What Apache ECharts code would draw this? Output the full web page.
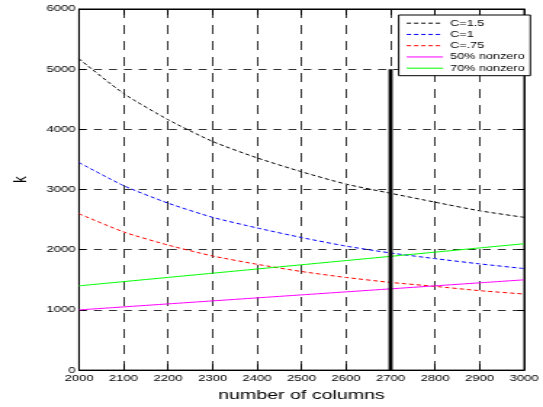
<!DOCTYPE html>
<html>
<head>
<meta charset="utf-8">
<script src="https://cdn.jsdelivr.net/npm/echarts@6/dist/echarts.min.js"></script>
<style>
html,body{margin:0;padding:0;background:#fff;overflow:hidden;width:543px;height:407px;}
#c{width:374px;height:407px;transform:scaleX(1.4519);transform-origin:0 0;}
</style>
</head>
<body>
<div id="c"></div>
<script>
// ---- data ----
const columns = [2000, 2100, 2200, 2300, 2400, 2500, 2600, 2700, 2800, 2900, 3000];
const c15 = [5172, 4596, 4161, 3799, 3526, 3295, 3090, 2938, 2790, 2647, 2538];
const c1 = [3449, 3065, 2774, 2538, 2362, 2202, 2060, 1946, 1852, 1765, 1687];
const c075 = [2598, 2296, 2077, 1896, 1758, 1638, 1539, 1457, 1391, 1320, 1264];
const nz50 = [1000, 1050, 1100, 1150, 1200, 1250, 1300, 1350, 1400, 1450, 1500];
const nz70 = [1400, 1470, 1540, 1610, 1680, 1750, 1820, 1890, 1960, 2030, 2100];
const markerX = 2700;
const markerBottom = 0;
const markerTop = 5000;
const seriesNames = ['C=1.5', 'C=1', 'C=.75', '50% nonzero', '70% nonzero'];
const xTitle = 'number of columns';
const yTitle = 'k';

const pair = (ys) => columns.map((x, i) => [x, ys[i]]);
const FONT = '"Liberation Sans", Arial, Helvetica, sans-serif';
const plain = (v) => String(v);

const chart = echarts.init(document.getElementById('c'), null, {renderer: 'canvas'});

function lineSeries(name, ys, color, dashed) {
  return {
    name: name, type: 'line', data: pair(ys), symbol: 'none', showSymbol: false,
    smooth: 0.2, animation: false, z: 3,
    lineStyle: {color: color, width: 1, type: dashed ? [3, 2] : 'solid'},
    itemStyle: {color: color}
  };
}

const option = {
  backgroundColor: '#fff',
  animation: false,
  grid: {left: 48.2, right: 9, top: 9, bottom: 33.5, show: true, borderColor: '#000', borderWidth: 1, backgroundColor: 'transparent'},
  legend: {
    show: true, orient: 'vertical', left: 274.6, top: 15,
    data: seriesNames,
    itemWidth: 25, itemHeight: 10, itemGap: 2.25,
    padding: [3.7, 4, 3, 5],
    borderColor: '#000', borderWidth: 1, backgroundColor: '#fff',
    itemStyle: {opacity: 0},
    lineStyle: {width: 1},
    textStyle: {fontFamily: FONT, fontSize: 8.7, color: '#000'},
    selectedMode: false
  },
  xAxis: [{
    type: 'value', min: 2000, max: 3000, interval: 100,
    name: xTitle, nameLocation: 'middle', nameGap: 12,
    nameTextStyle: {fontFamily: FONT, fontSize: 13.5, color: '#000'},
    axisLine: {show: true, onZero: false, lineStyle: {color: '#000', width: 1}},
    axisTick: {show: true, inside: true, length: 6, lineStyle: {color: '#000'}},
    axisLabel: {show: true, margin: 4, fontFamily: FONT, fontSize: 9, color: '#000', formatter: plain},
    splitLine: {show: true, lineStyle: {color: '#333', width: 1, type: [9, 7]}}
  }, {
    type: 'value', position: 'top', min: 2000, max: 3000, interval: 100,
    axisLine: {show: true, onZero: false, lineStyle: {color: '#000'}},
    axisTick: {show: true, inside: true, length: 6, lineStyle: {color: '#000'}},
    axisLabel: {show: false}, splitLine: {show: false}
  }],
  yAxis: [{
    type: 'value', min: 0, max: 6000, interval: 1000,
    name: yTitle, nameLocation: 'middle', nameGap: 30,
    nameTextStyle: {fontFamily: FONT, fontSize: 13, color: '#000', padding: [0, 0, 0, 20]},
    axisLine: {show: true, onZero: false, lineStyle: {color: '#000', width: 1}},
    axisTick: {show: true, inside: true, length: 4.5, lineStyle: {color: '#000'}},
    axisLabel: {show: true, margin: 2.5, fontFamily: FONT, fontSize: 9, color: '#000', formatter: plain},
    splitLine: {show: true, lineStyle: {color: '#333', width: 1, type: [5.5, 4.8]}}
  }, {
    type: 'value', position: 'right', min: 0, max: 6000, interval: 1000,
    axisLine: {show: true, onZero: false, lineStyle: {color: '#000'}},
    axisTick: {show: true, inside: true, length: 4.5, lineStyle: {color: '#000'}},
    axisLabel: {show: false}, splitLine: {show: false}
  }],
  series: [
    lineSeries(seriesNames[0], c15, '#000000', true),
    lineSeries(seriesNames[1], c1, '#0000ff', true),
    lineSeries(seriesNames[2], c075, '#ff0000', true),
    lineSeries(seriesNames[3], nz50, '#ff00ff', false),
    lineSeries(seriesNames[4], nz70, '#00ff00', false),
    {
      name: 'marker', type: 'line', symbol: 'none', z: 4, animation: false,
      data: [[markerX, markerBottom], [markerX, markerTop]],
      lineStyle: {color: '#000', width: 2.8, type: 'solid'}
    }
  ]
};
chart.setOption(option);
</script>
</body>
</html>
